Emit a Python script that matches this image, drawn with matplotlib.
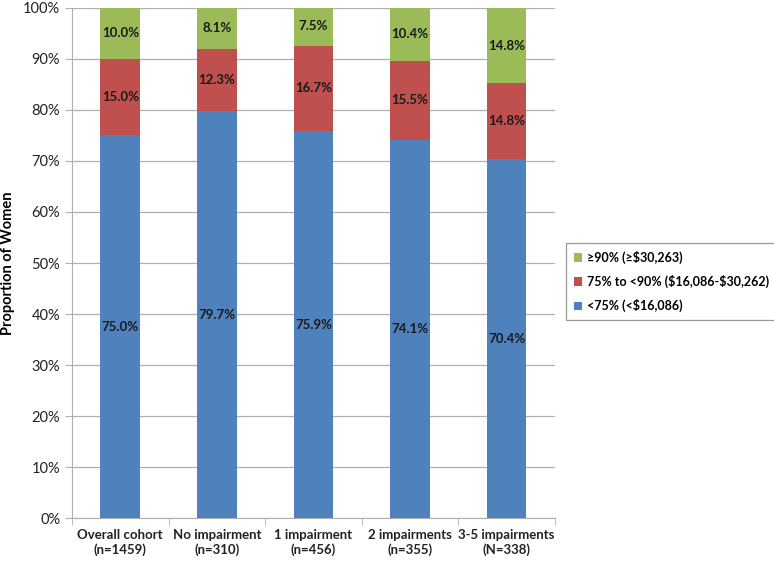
import matplotlib
matplotlib.use('Agg')
import matplotlib.pyplot as plt
import numpy as np
from matplotlib.ticker import PercentFormatter, FixedLocator

categories = ["Overall cohort\n(n=1459)", "No impairment\n(n=310)", "1 impairment\n(n=456)",
              "2 impairments\n(n=355)", "3-5 impairments\n(N=338)"]
low = [75.0, 79.7, 75.9, 74.1, 70.4]
mid = [15.0, 12.3, 16.7, 15.5, 14.8]
high = [10.0, 8.1, 7.5, 10.4, 14.8]
series_names = [r"<75% (<\$16,086)", r"75% to <90% (\$16,086-\$30,262)", "\u226590% (\u2265\\$30,263)"]
colors = ["#4F81BD", "#C0504D", "#9BBB59"]

plt.rcParams['font.family'] = ['Lato', 'DejaVu Sans']

fig = plt.figure(figsize=(7.74, 5.62), dpi=100)
ax = fig.add_axes([0.093, 0.078, 0.624, 0.908])

x = np.arange(len(categories))
bottom = np.zeros(len(categories))
for vals, col, name in zip([low, mid, high], colors, series_names):
    vals = np.array(vals)
    ax.bar(x, vals, width=0.41, bottom=bottom, color=col, label=name, zorder=3)
    for xi, bi, vi in zip(x, bottom, vals):
        ax.text(xi, bi + vi / 2, f"{vi:.1f}%", ha='center', va='center',
                fontsize=9.5, fontweight='bold', color='#1a1a1a', zorder=4)
    bottom = bottom + vals

ax.set_xlim(-0.5, len(categories) - 0.5)
ax.set_ylim(0, 100)
ax.yaxis.set_major_locator(FixedLocator(np.arange(0, 101, 10)))
ax.yaxis.set_major_formatter(PercentFormatter(decimals=0))
ax.grid(axis='y', color='#b0b0b0', linewidth=0.9, zorder=0)

ax.set_xticks(x)
ax.set_xticklabels(categories, fontsize=9.5, fontweight='bold')
ax.tick_params(axis='x', length=0, pad=8, colors='#222222')
ax.set_xticks(np.arange(-0.5, len(categories)), minor=True)
ax.tick_params(axis='x', which='minor', length=5, color='#b0b0b0')
ax.tick_params(axis='y', labelsize=10.5, length=5, color='#b0b0b0', labelcolor='#222222')

for s in ['top', 'right']:
    ax.spines[s].set_visible(False)
for s in ['left', 'bottom']:
    ax.spines[s].set_color('#b0b0b0')

ax.set_ylabel("Proportion of Women", fontsize=10.5, fontweight='bold', labelpad=6)

handles, labels = ax.get_legend_handles_labels()
leg = fig.legend(handles[::-1], labels[::-1], loc='upper left',
                 bbox_to_anchor=(566 / 774, 1 - 243 / 562), frameon=True, fancybox=False,
                 edgecolor='#808080', fontsize=9, handlelength=0.7, handleheight=0.7,
                 handletextpad=0.4, labelspacing=0.9, borderpad=0.6, borderaxespad=0)
for t in leg.get_texts():
    t.set_fontweight('bold')
leg.get_frame().set_linewidth(0.9)

plt.savefig('out.png', dpi=100)
plt.close()
